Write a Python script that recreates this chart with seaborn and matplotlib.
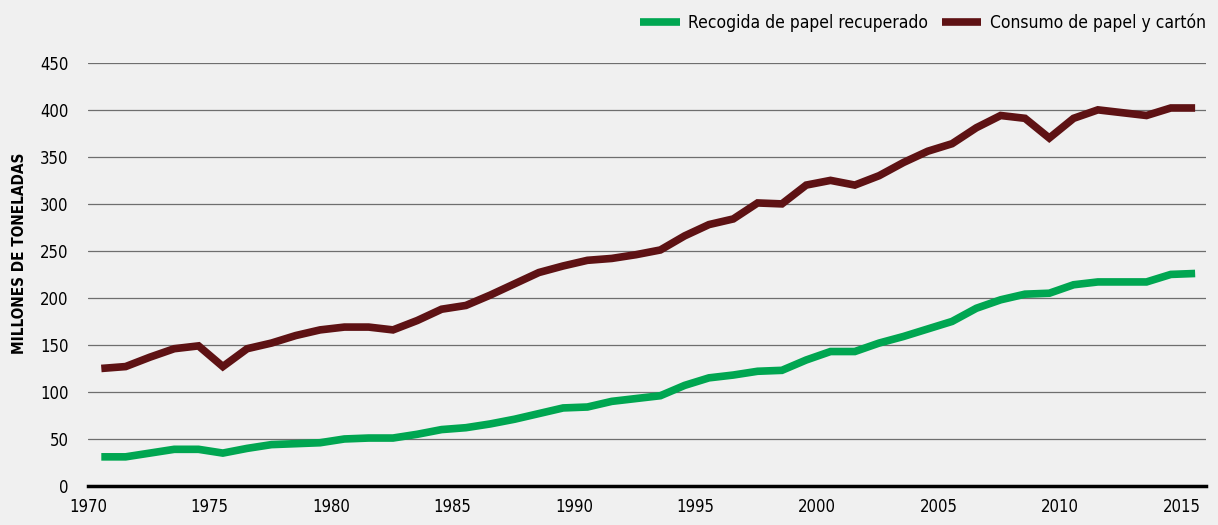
import pandas as pd
import matplotlib.pyplot as plt
import seaborn as sns

# Datos (millones de toneladas)
anios = list(range(1970, 2016))
consumo = [125, 127, 137, 146, 149, 127, 146, 152, 160, 166,
           169, 169, 166, 176, 188, 192, 203, 215, 227, 234,
           240, 242, 246, 251, 266, 278, 284, 301, 300, 320,
           325, 320, 330, 344, 356, 364, 381, 394, 391, 370,
           391, 400, 397, 394, 402, 402]
recogida = [31, 31, 35, 39, 39, 35, 40, 44, 45, 46,
            50, 51, 51, 55, 60, 62, 66, 71, 77, 83,
            84, 90, 93, 96, 107, 115, 118, 122, 123, 134,
            143, 143, 152, 159, 167, 175, 189, 198, 204, 205,
            214, 217, 217, 217, 225, 226]
series = ['Recogida de papel recuperado', 'Consumo de papel y cartón']
colores = ['#00a651', '#5e1214']
yticks = list(range(0, 451, 50))
xticks = list(range(1970, 2016, 5))

df = pd.DataFrame({
    'anio': anios * 2,
    'valor': recogida + consumo,
    'serie': [series[0]] * len(anios) + [series[1]] * len(anios),
})
# los puntos van a mitad de cada año
df['x'] = df['anio'] + 0.55

sns.set_style('white')
plt.rcParams['font.family'] = ['DejaVu Sans']
plt.rcParams['font.stretch'] = 'condensed'
plt.rcParams['text.color'] = 'black'
plt.rcParams['xtick.color'] = 'black'
plt.rcParams['ytick.color'] = 'black'

fig = plt.figure(figsize=(12.18, 5.25), dpi=100, facecolor='#f0f0f0')
ax = fig.add_axes([0.0722, 0.0743, 0.918, 0.806])
ax.set_facecolor('#f0f0f0')

sns.lineplot(data=df, x='x', y='valor', hue='serie', hue_order=series,
             palette=colores, linewidth=5.5, ax=ax, legend=False,
             solid_joinstyle='miter', solid_capstyle='butt')

ax.set_xlim(1970, 2016)
ax.set_ylim(0, 450)
ax.set_yticks(yticks)
ax.set_xticks(xticks)
ax.set_xticklabels([str(t) for t in xticks], fontsize=12)
ax.set_yticklabels([str(t) for t in yticks], fontsize=12)
ax.yaxis.grid(True, color='#6e6e6e', linewidth=0.9)
ax.set_axisbelow(True)
for s in ['top', 'right', 'left']:
    ax.spines[s].set_visible(False)
ax.spines['bottom'].set_color('black')
ax.spines['bottom'].set_linewidth(2.5)
ax.tick_params(axis='y', length=0, pad=14)
ax.tick_params(axis='x', length=5, width=1, color='black', direction='out', pad=4)
ax.set_xlabel('')
ax.set_ylabel('')

fig.text(0.016, 0.518, 'MILLONES DE TONELADAS', rotation=90, va='center',
         ha='center', fontsize=11, fontweight='bold')

handles = [plt.Line2D([0], [0], color=c, linewidth=5.5, solid_capstyle='butt')
           for c in colores]
fig.legend(handles, series, loc='upper right', bbox_to_anchor=(0.99, 0.975),
           ncol=2, frameon=False, fontsize=12.5, handlelength=2.25,
           columnspacing=0.8, handletextpad=0.5, borderpad=0, borderaxespad=0)

fig.savefig('out.png', dpi=100, facecolor=fig.get_facecolor())
